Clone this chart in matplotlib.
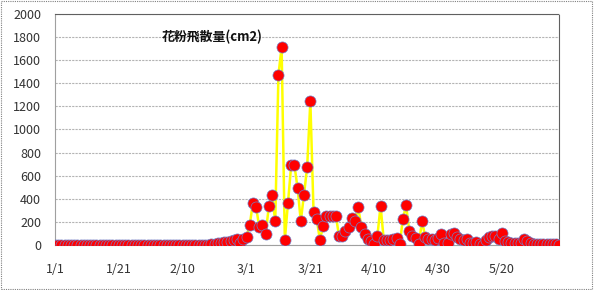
"""
Pollen count chart (daily, Jan - early Jun).
"""

import numpy as np
import matplotlib.pyplot as plt
from matplotlib.patches import Rectangle

plt.rcParams['font.family'] = ['Noto Sans CJK JP', 'DejaVu Sans']

# daily values, 1/1 .. 6/7 (leap year, 159 days)
early = [0] * 48
values = early + [
    3, 5, 8, 15, 20, 25, 30, 35, 45, 49,          # 48-57
    20, 49, 72, 173, 364, 329, 156, 175, 95, 338,  # 58-67
    433, 208, 1472, 1714, 43, 364, 693, 693, 493, 208,  # 68-77
    433, 675, 1247, 286, 225, 43, 167, 250, 250, 250,   # 78-87
    250, 78, 75, 120, 156, 234, 210, 326, 156, 95,      # 88-97
    52, 37, 5, 78, 340, 43, 43, 43, 52, 65,             # 98-107
    9, 225, 346, 120, 75, 58, 9, 210, 66, 53,           # 108-117
    56, 43, 65, 95, 17, 20, 95, 101, 69, 52,            # 118-127
    43, 52, 20, 17, 29, 9, 2, 43, 69, 78,               # 128-137
    78, 52, 101, 35, 29, 20, 17, 17, 20, 52,            # 138-147
    37, 17, 10, 8, 6, 10, 8, 5, 8, 6, 3,                # 148-158
]
tick_pos = [0, 20, 40, 60, 80, 100, 120, 140]
tick_labels = ['1/1', '1/21', '2/10', '3/1', '3/21', '4/10', '4/30', '5/20']
y_ticks = list(range(0, 2001, 200))
title = '花粉飛散量(cm2)'

fig = plt.figure(figsize=(5.94, 2.90), dpi=100)
ax = fig.add_axes([0.0926, 0.155, 0.849, 0.797])

x = np.arange(len(values))
ax.plot(x, values, color='#FFFF00', linewidth=1.8, zorder=2)
ax.plot(x, values, linestyle='none', marker='o', markersize=8,
        markerfacecolor='#FF0000', markeredgecolor='#7080C8',
        markeredgewidth=0.5, zorder=3)

ax.set_xlim(0, len(values) - 1)
ax.set_ylim(0, 2000)
ax.set_yticks(y_ticks)
ax.set_xticks(tick_pos)
ax.set_xticklabels(tick_labels)
ax.tick_params(length=0, labelsize=9, colors='#333333')
ax.tick_params(axis='y', pad=10)
ax.tick_params(axis='x', pad=13)

ax.grid(axis='y', color='#B4B4B4', linestyle=(0, (2, 1)), linewidth=0.8)
ax.set_axisbelow(True)
for side in ['top', 'right']:
    ax.spines[side].set_color('#606060')
    ax.spines[side].set_linestyle((0, (1, 1)))
    ax.spines[side].set_linewidth(0.8)
ax.spines['left'].set_color('#A0A0A0')
ax.spines['bottom'].set_color('#A0A0A0')

ax.text(0.212, 0.9, title, transform=ax.transAxes, fontsize=9.3,
        fontweight='semibold', color='#111111', va='center', ha='left')

# outer chart frame
fig.patches.append(Rectangle((0.002, 0.004), 0.994, 0.992, transform=fig.transFigure,
                             fill=False, edgecolor='#808080', linestyle=(0, (1, 1)),
                             linewidth=0.8))

fig.savefig('out.png', dpi=100)
